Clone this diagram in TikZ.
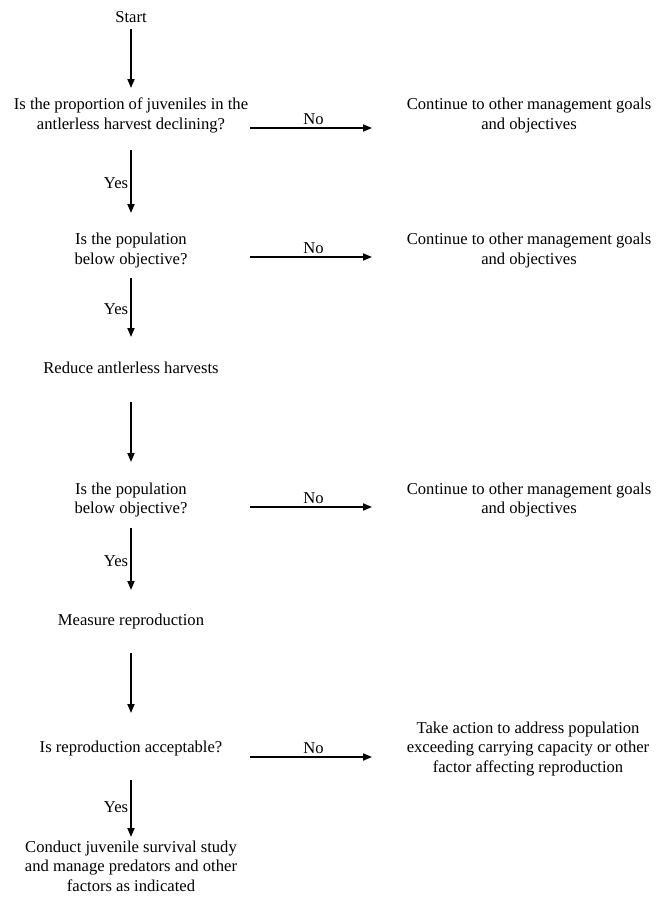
\documentclass[tikz,border=0pt]{standalone}
\usepackage{fontspec}
\setmainfont{Liberation Serif}
\usetikzlibrary{arrows.meta}
\begin{document}
\begin{tikzpicture}[x=1bp,y=-1bp,
  txt/.style={align=center,inner sep=0pt,font=\fontsize{16.6bp}{19.5bp}\selectfont},
  arr/.style={line width=1.8bp,-{Triangle[length=9bp,width=7bp]}},
  lbl/.style={inner sep=2bp,font=\fontsize{16.6bp}{19.5bp}\selectfont}]
\fill[white] (0,0) rectangle (663,904);
\useasboundingbox (0,0) rectangle (663,904);
% left column
\node[txt] (start) at (131,17) {Start};
\node[txt] (q1) at (131,115.5) {Is the proportion of juveniles in the\\antlerless harvest declining?};
\node[txt] (q2) at (131,250.5) {Is the population\\below objective?};
\node[txt] (reduce) at (131,368) {Reduce antlerless harvests};
\node[txt] (q3) at (131,500) {Is the population\\below objective?};
\node[txt] (measure) at (131,622) {Measure reproduction};
\node[txt] (q4) at (131,748) {Is reproduction acceptable?};
\node[txt] (conduct) at (131,866) {Conduct juvenile survival study\\and manage predators and other\\factors as indicated};
% right column
\node[txt] (c1) at (529,115.5) {Continue to other management goals\\and objectives};
\node[txt] (c2) at (529,250.5) {Continue to other management goals\\and objectives};
\node[txt] (c3) at (529,500) {Continue to other management goals\\and objectives};
\node[txt] (take) at (528,749) {Take action to address population\\exceeding carrying capacity or other\\factor affecting reproduction};
% vertical arrows
\draw[arr,shorten <=12bp,shorten >=27.5bp] (start.center) -- (q1.center);
\draw[arr,shorten <=34.5bp,shorten >=37.5bp] (q1.center) -- (q2.center) node[lbl,pos=0.5,left] {Yes};
\draw[arr,shorten <=27.5bp,shorten >=31bp] (q2.center) -- (reduce.center) node[lbl,pos=0.5,left] {Yes};
\draw[arr,shorten <=34bp,shorten >=38bp] (reduce.center) -- (q3.center);
\draw[arr,shorten <=28bp,shorten >=32bp] (q3.center) -- (measure.center) node[lbl,pos=0.5,left] {Yes};
\draw[arr,shorten <=31bp,shorten >=35bp] (measure.center) -- (q4.center);
\draw[arr,shorten <=32bp,shorten >=29bp] (q4.center) -- (conduct.center) node[lbl,pos=0.5,left] {Yes};
% horizontal arrows
\draw[arr] ([xshift=119bp,yshift=-12.5bp]q1.center) -- ([xshift=-157bp,yshift=-12.5bp]c1.center) node[lbl,pos=0.52,above] {No};
\draw[arr] ([xshift=119bp,yshift=-6.5bp]q2.center) -- ([xshift=-157bp,yshift=-6.5bp]c2.center) node[lbl,pos=0.52,above] {No};
\draw[arr] ([xshift=119bp,yshift=-7bp]q3.center) -- ([xshift=-157bp,yshift=-7bp]c3.center) node[lbl,pos=0.52,above] {No};
\draw[arr] ([xshift=119bp,yshift=-9bp]q4.center) -- ([xshift=-156bp,yshift=-8bp]take.center) node[lbl,pos=0.52,above] {No};
\end{tikzpicture}
\end{document}
